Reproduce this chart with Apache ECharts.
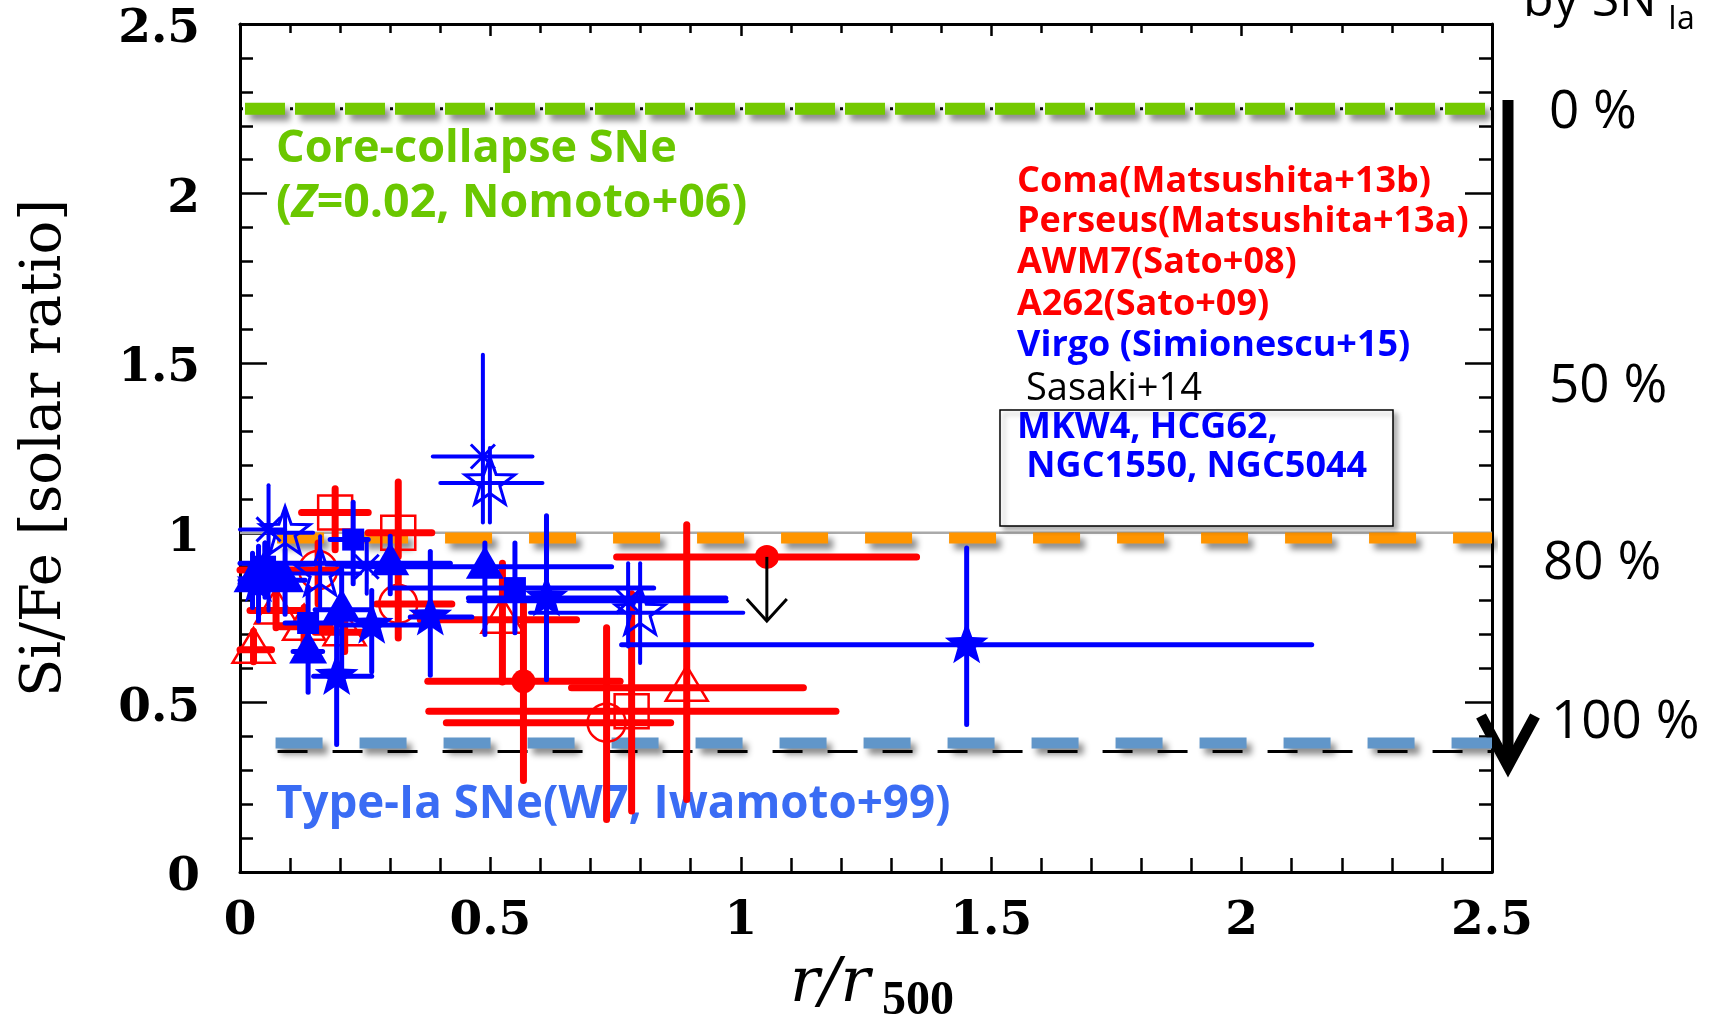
<!DOCTYPE html>
<html><head><meta charset="utf-8">
<script src="https://cdn.jsdelivr.net/npm/echarts/dist/echarts.min.js"></script>
<style>html,body{margin:0;padding:0;background:#fff}#c{width:1710px;height:1016px}</style>
</head><body><div id="c"></div>
<script>
// ---------- tick labels ----------
const xTickLabels = ['0', '0.5', '1', '1.5', '2', '2.5'];
const yTickLabels = ['0', '0.5', '1', '1.5', '2', '2.5'];

// ---------- model / reference ratios (Si/Fe) ----------
const ccRatio = 2.25;      // core-collapse SNe
const solarRatio = 1.0;    // solar
const orangeRatio = 0.985; // 80 % SNIa level line
const iaRatio = 0.38;      // Type-Ia SNe (W7)
const iaRatioThin = 0.355; // thin dashed line

// ---------- data: [x, y, xLo, xHi, yLo, yHi] ----------
const comaPts = [[0.566, 0.562, 0.375, 0.759, 0.27, 0.79]];
const comaUpper = [[1.052, 0.929, 0.752, 1.351, 0.74]]; // x, y, xLo, xHi, arrow tip
const perseusPts = [
  [0.156, 0.89, 0.0, 0.20, 0.79, 0.97],
  [0.316, 0.79, 0.273, 0.423, 0.69, 0.89],
  [0.732, 0.44, 0.412, 0.86, 0.155, 0.72]
];
const awm7Pts = [
  [0.027, 0.655, 0.0, 0.063, 0.62, 0.71],
  [0.072, 0.771, 0.02, 0.12, 0.72, 0.83],
  [0.128, 0.723, 0.08, 0.18, 0.67, 0.78],
  [0.209, 0.707, 0.15, 0.27, 0.65, 0.77],
  [0.524, 0.744, 0.36, 0.672, 0.56, 0.91],
  [0.892, 0.543, 0.662, 1.125, 0.214, 1.024]
];
const a262Pts = [
  [0.19, 1.06, 0.123, 0.256, 0.95, 1.13],
  [0.316, 1.0, 0.256, 0.383, 0.93, 1.15],
  [0.782, 0.474, 0.377, 1.19, 0.18, 0.82]
];
const virgoAsterPts = [
  [0.057, 1.01, 0.0, 0.09, 0.77, 1.14],
  [0.253, 0.90, 0.21, 0.30, 0.82, 0.98],
  [0.485, 1.225, 0.385, 0.584, 1.03, 1.525],
  [0.775, 0.798, 0.456, 0.972, 0.665, 0.91]
];
const virgoStarPts = [
  [0.09, 1.0, 0.06, 0.146, 0.90, 1.07],
  [0.16, 0.88, 0.09, 0.24, 0.78, 0.99],
  [0.499, 1.147, 0.40, 0.604, 1.03, 1.25],
  [0.799, 0.764, 0.579, 1.005, 0.616, 0.91]
];
const sasakiTriPts = [
  [0.025, 0.86, 0.0, 0.05, 0.78, 0.94],
  [0.05, 0.89, 0.02, 0.09, 0.81, 0.97],
  [0.09, 0.86, 0.06, 0.13, 0.76, 0.95],
  [0.136, 0.65, 0.106, 0.165, 0.53, 0.72],
  [0.203, 0.773, 0.15, 0.26, 0.58, 0.90],
  [0.30, 0.91, 0.0, 0.42, 0.82, 0.99],
  [0.489, 0.90, 0.24, 0.742, 0.70, 0.97]
];
const sasakiSqPts = [
  [0.05, 0.90, 0.02, 0.08, 0.83, 0.97],
  [0.136, 0.734, 0.09, 0.20, 0.62, 0.84],
  [0.226, 0.98, 0.18, 0.256, 0.85, 1.09],
  [0.549, 0.837, 0.30, 0.826, 0.705, 0.97]
];
const sasakiStarPts = [
  [0.037, 0.85, 0.0, 0.07, 0.74, 0.96],
  [0.193, 0.577, 0.147, 0.263, 0.376, 0.78],
  [0.263, 0.728, 0.20, 0.38, 0.59, 0.83],
  [0.38, 0.752, 0.34, 0.463, 0.58, 0.945],
  [0.612, 0.808, 0.456, 0.97, 0.567, 1.05],
  [1.451, 0.670, 0.762, 2.14, 0.435, 0.955]
];

const RED = '#ff0000', BLUE = '#0000ff';

function starPts(cx, cy, R, r) {
  const pts = [];
  for (let i = 0; i < 10; i++) {
    const a = -Math.PI / 2 + i * Math.PI / 5;
    const rad = i % 2 === 0 ? R : r;
    pts.push([cx + rad * Math.cos(a), cy + rad * Math.sin(a)]);
  }
  return pts;
}
function markerEl(kind, c, color) {
  const x = c[0], y = c[1];
  switch (kind) {
    case 'triFill': return {type: 'polygon', shape: {points: [[x, y - 21], [x - 19, y + 12], [x + 19, y + 12]]}, style: {fill: color}};
    case 'triOpen': return {type: 'polygon', shape: {points: [[x, y - 22], [x - 21, y + 13], [x + 21, y + 13]]}, style: {fill: 'none', stroke: color, lineWidth: 2.5}};
    case 'sqFill': return {type: 'rect', shape: {x: x - 11, y: y - 11, width: 22, height: 22}, style: {fill: color}};
    case 'sqOpen': return {type: 'rect', shape: {x: x - 17, y: y - 17, width: 34, height: 34}, style: {fill: 'none', stroke: color, lineWidth: 2.5}};
    case 'circFill': return {type: 'circle', shape: {cx: x, cy: y, r: 12}, style: {fill: color}};
    case 'circOpen': return {type: 'circle', shape: {cx: x, cy: y, r: 19}, style: {fill: 'none', stroke: color, lineWidth: 2.5}};
    case 'starFill': return {type: 'polygon', shape: {points: starPts(x, y, 23, 9.5)}, style: {fill: color}};
    case 'starOpen': return {type: 'polygon', shape: {points: starPts(x, y, 26, 10.5)}, style: {fill: 'none', stroke: color, lineWidth: 3}};
    case 'aster': {
      const ch = [];
      for (let k = 0; k < 4; k++) {
        const a = k * Math.PI / 4, R = 17;
        ch.push({type: 'line', shape: {x1: x - R * Math.cos(a), y1: y - R * Math.sin(a), x2: x + R * Math.cos(a), y2: y + R * Math.sin(a)}, style: {stroke: color, lineWidth: 3}});
      }
      return {type: 'group', children: ch};
    }
  }
}
function errSeries(name, data, kind, color, lw, z) {
  return {
    type: 'custom', name: name, data: data, z: z,
    dimensions: ['x', 'y', 'xLo', 'xHi', 'yLo', 'yHi'],
    encode: {x: [0, 2, 3], y: [1, 4, 5]},
    renderItem: function (params, api) {
      const c = api.coord([api.value(0), api.value(1)]);
      const l = api.coord([api.value(2), api.value(1)]);
      const r = api.coord([api.value(3), api.value(1)]);
      const lo = api.coord([api.value(0), api.value(4)]);
      const hi = api.coord([api.value(0), api.value(5)]);
      return {type: 'group', children: [
        {type: 'line', shape: {x1: l[0], y1: c[1], x2: r[0], y2: c[1]}, style: {stroke: color, lineWidth: lw, lineCap: 'round'}},
        {type: 'line', shape: {x1: c[0], y1: lo[1], x2: c[0], y2: hi[1]}, style: {stroke: color, lineWidth: lw, lineCap: 'round'}},
        markerEl(kind, c, color)
      ]};
    }
  };
}
function refLine(y, x0, color, width, dash, shadow, z) {
  const s = {
    type: 'line', data: [[x0, y], [2.5, y]], symbol: 'none', silent: true, z: z,
    lineStyle: {color: color, width: width, type: dash, cap: 'butt'}
  };
  if (shadow) Object.assign(s.lineStyle, {shadowColor: 'rgba(0,0,0,0.45)', shadowBlur: 6, shadowOffsetX: 5, shadowOffsetY: 6});
  return s;
}

const chart = echarts.init(document.getElementById('c'), null, {renderer: 'canvas'});
const axisLineStyle = {color: '#000', width: 3};
const labelFont = {fontFamily: 'DejaVu Serif', fontWeight: 'bold', fontSize: 47, color: '#000'};

const option = {
  animation: false,
  backgroundColor: '#fff',
  grid: {left: 240, right: 218, top: 24, bottom: 144, containLabel: false},
  xAxis: [
    {type: 'value', min: 0, max: 2.5, interval: 0.5, position: 'bottom',
      axisLine: {show: true, onZero: false, lineStyle: axisLineStyle},
      axisTick: {show: true, inside: true, length: 15, lineStyle: {color: '#000', width: 2.5}},
      minorTick: {show: true, splitNumber: 5, length: 14, lineStyle: {color: '#000', width: 2.5}},
      splitLine: {show: false}, minorSplitLine: {show: false},
      axisLabel: Object.assign({margin: 26, formatter: v => xTickLabels[Math.round(v / 0.5)]}, labelFont)},
    {type: 'value', min: 0, max: 2.5, interval: 0.5, position: 'top',
      axisLine: {show: true, onZero: false, lineStyle: axisLineStyle},
      axisTick: {show: true, inside: true, length: 12, lineStyle: {color: '#000', width: 2.5}},
      minorTick: {show: true, splitNumber: 5, length: 9, lineStyle: {color: '#000', width: 2.5}},
      splitLine: {show: false}, axisLabel: {show: false}}
  ],
  yAxis: [
    {type: 'value', min: 0, max: 2.5, interval: 0.5, position: 'left',
      axisLine: {show: true, onZero: false, lineStyle: axisLineStyle},
      axisTick: {show: true, inside: true, length: 27, lineStyle: {color: '#000', width: 2.5}},
      minorTick: {show: true, splitNumber: 5, length: 13, lineStyle: {color: '#000', width: 2.5}},
      splitLine: {show: false}, minorSplitLine: {show: false},
      axisLabel: Object.assign({margin: 40, formatter: v => '{d|' + yTickLabels[Math.round(v / 0.5)] + '}',
        rich: {d: {fontFamily: 'DejaVu Serif', fontWeight: 'bold', fontSize: 47, color: '#000', padding: [12, 0, 0, 0]}}}, labelFont)},
    {type: 'value', min: 0, max: 2.5, interval: 0.5, position: 'right',
      axisLine: {show: true, onZero: false, lineStyle: axisLineStyle},
      axisTick: {show: true, inside: true, length: 27, lineStyle: {color: '#000', width: 2.5}},
      minorTick: {show: true, splitNumber: 5, length: 13, lineStyle: {color: '#000', width: 2.5}},
      splitLine: {show: false}, axisLabel: {show: false}}
  ],
  series: [
    refLine(ccRatio, 0.0, '#000', 3, [3, 22], false, 1),
    refLine(ccRatio, 0.01, '#74c900', 12, [40, 10], true, 2),
    refLine(solarRatio, 0.0, '#aaaaaa', 2.5, 'solid', false, 1),
    refLine(orangeRatio, 0.074, '#ff9500', 11, [47, 37], true, 2),
    refLine(iaRatioThin, 0.075, '#000', 3, [30, 25], false, 1),
    refLine(iaRatio, 0.071, '#6196c9', 11, [47, 37], true, 2),
    errSeries('AWM7 (Sato+08)', awm7Pts, 'triOpen', RED, 7, 4),
    errSeries('A262 (Sato+09)', a262Pts, 'sqOpen', RED, 7, 4),
    errSeries('Perseus (Matsushita+13a)', perseusPts, 'circOpen', RED, 7, 4),
    errSeries('Coma (Matsushita+13b)', comaPts, 'circFill', RED, 7, 4),
    {
      type: 'custom', name: 'Coma upper limit', data: comaUpper, z: 4,
      encode: {x: [0, 2, 3], y: [1, 4]},
      renderItem: function (params, api) {
        const c = api.coord([api.value(0), api.value(1)]);
        const l = api.coord([api.value(2), api.value(1)]);
        const r = api.coord([api.value(3), api.value(1)]);
        const tip = api.coord([api.value(0), api.value(4)]);
        return {type: 'group', children: [
          {type: 'line', shape: {x1: l[0], y1: c[1], x2: r[0], y2: c[1]}, style: {stroke: RED, lineWidth: 7, lineCap: 'round'}},
          {type: 'circle', shape: {cx: c[0], cy: c[1], r: 12}, style: {fill: RED}},
          {type: 'line', shape: {x1: c[0], y1: c[1], x2: tip[0], y2: tip[1]}, style: {stroke: '#000', lineWidth: 3}},
          {type: 'polyline', shape: {points: [[tip[0] - 20, tip[1] - 22], [tip[0], tip[1]], [tip[0] + 20, tip[1] - 22]]}, style: {stroke: '#000', lineWidth: 3, fill: 'none'}}
        ]};
      }
    },
    errSeries('Virgo asterisk', virgoAsterPts, 'aster', BLUE, 4, 5),
    errSeries('Virgo star', virgoStarPts, 'starOpen', BLUE, 4, 5),
    errSeries('Sasaki triangles', sasakiTriPts, 'triFill', BLUE, 5, 5),
    errSeries('Sasaki squares', sasakiSqPts, 'sqFill', BLUE, 5, 5),
    errSeries('Sasaki stars', sasakiStarPts, 'starFill', BLUE, 5, 5)
  ],
  graphic: [
    // axis titles
    {type: 'text', x: 45, y: 448, rotation: Math.PI / 2, style: {text: 'Si/Fe [solar ratio]', font: '56px "DejaVu Serif"', fill: '#000', align: 'center', verticalAlign: 'middle'}},
    {type: 'text', x: 830, y: 985, style: {text: 'r/r', font: 'italic 62px "DejaVu Serif"', fill: '#000', align: 'center', verticalAlign: 'middle'}},
    {type: 'text', x: 918, y: 1002, style: {text: '500', font: 'bold 48px "Liberation Serif"', fill: '#000', align: 'center', verticalAlign: 'middle'}},
    // model annotations
    {type: 'text', x: 276, y: 149, style: {text: 'Core-collapse SNe', font: 'bold 45px "Open Sans"', fill: '#6ac700', verticalAlign: 'middle'}},
    {type: 'text', x: 276, y: 204, style: {
      text: '{a|(}{z|Z}{a|=0.02, Nomoto+06)}', verticalAlign: 'middle',
      rich: {a: {font: 'bold 46.5px "Open Sans"', fill: '#6ac700'}, z: {font: 'italic bold 46.5px "Open Sans"', fill: '#6ac700'}}}},
    {type: 'text', x: 276, y: 805, style: {text: 'Type-Ia SNe(W7, Iwamoto+99)', font: 'bold 45.7px "Open Sans"', fill: '#3a6cf4', verticalAlign: 'middle'}},
    // legend
    {type: 'text', x: 1017, y: 182, style: {text: 'Coma(Matsushita+13b)', font: 'bold 36px "Open Sans"', fill: RED, verticalAlign: 'middle'}},
    {type: 'text', x: 1017, y: 222, style: {text: 'Perseus(Matsushita+13a)', font: 'bold 36px "Open Sans"', fill: RED, verticalAlign: 'middle'}},
    {type: 'text', x: 1017, y: 263, style: {text: 'AWM7(Sato+08)', font: 'bold 36px "Open Sans"', fill: RED, verticalAlign: 'middle'}},
    {type: 'text', x: 1017, y: 305, style: {text: 'A262(Sato+09)', font: 'bold 36px "Open Sans"', fill: RED, verticalAlign: 'middle'}},
    {type: 'text', x: 1017, y: 346, style: {text: 'Virgo (Simionescu+15)', font: 'bold 36px "Open Sans"', fill: BLUE, verticalAlign: 'middle'}},
    {type: 'rect', shape: {x: 1000, y: 410, width: 393, height: 116}, style: {fill: '#fff', stroke: '#000', lineWidth: 1.5, shadowBlur: 5, shadowOffsetX: 4, shadowOffsetY: 4, shadowColor: 'rgba(0,0,0,0.3)'}, z: 10},
    {type: 'text', x: 1012, y: 389, z: 11, style: {text: 'Sasaki+14', font: '38px "Open Sans"', fill: '#000', verticalAlign: 'middle', backgroundColor: '#fff', padding: [2, 14, 0, 14]}},
    {type: 'text', x: 1017, y: 428, z: 11, style: {text: 'MKW4, HCG62,', font: 'bold 36px "Open Sans"', fill: BLUE, verticalAlign: 'middle'}},
    {type: 'text', x: 1017, y: 467, z: 11, style: {text: ' NGC1550, NGC5044', font: 'bold 36px "Open Sans"', fill: BLUE, verticalAlign: 'middle'}},
    // SNIa contribution scale
    {type: 'text', x: 1523, y: 2, style: {text: 'by SN', font: '50px "Open Sans"', fill: '#000', verticalAlign: 'middle'}},
    {type: 'text', x: 1668, y: 20, style: {text: 'Ia', font: '32px "Open Sans"', fill: '#000', verticalAlign: 'middle'}},
    {type: 'text', x: 1549, y: 113, style: {text: '0 %', font: '53px "Open Sans"', fill: '#000', verticalAlign: 'middle'}},
    {type: 'text', x: 1549, y: 387, style: {text: '50 %', font: '53px "Open Sans"', fill: '#000', verticalAlign: 'middle'}},
    {type: 'text', x: 1543, y: 564, style: {text: '80 %', font: '53px "Open Sans"', fill: '#000', verticalAlign: 'middle'}},
    {type: 'text', x: 1551, y: 723, style: {text: '100 %', font: '53px "Open Sans"', fill: '#000', verticalAlign: 'middle'}},
    {type: 'line', shape: {x1: 1508, y1: 100, x2: 1508, y2: 762}, style: {stroke: '#000', lineWidth: 11}},
    {type: 'polyline', shape: {points: [[1481, 716], [1508, 766], [1535, 716]]}, style: {stroke: '#000', lineWidth: 11, fill: 'none', lineJoin: 'miter'}}
  ]
};
chart.setOption(option);
</script></body></html>
